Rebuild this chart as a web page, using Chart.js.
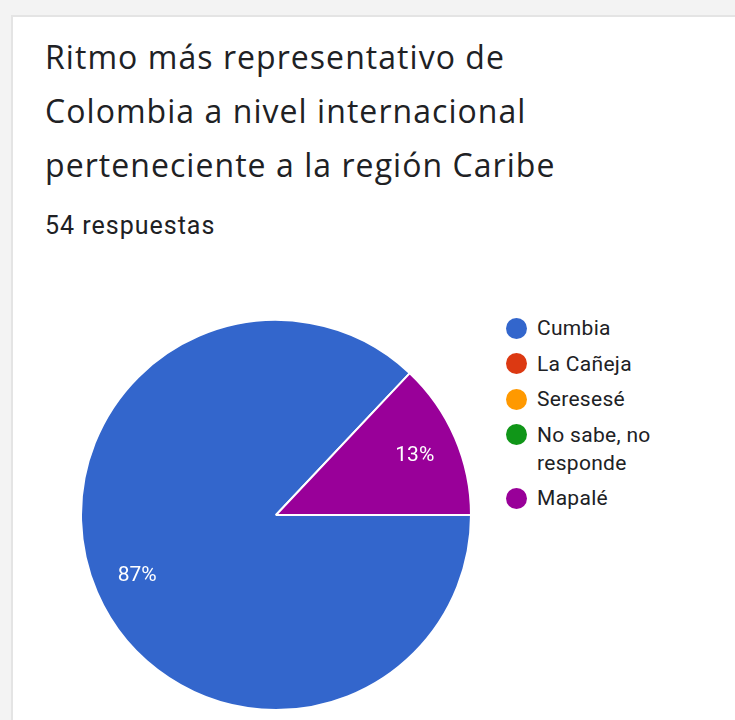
<!DOCTYPE html>
<html>
<head>
<meta charset="utf-8">
<script src="https://cdn.jsdelivr.net/npm/chart.js@4"></script>
<style>
  html, body { margin:0; padding:0; width:735px; height:720px; overflow:hidden; background:#f3f3f3; }
  #card { position:absolute; left:11px; top:15px; width:730px; height:710px; background:#fff; border-top:2px solid #e4e4e4; border-left:2px solid #e4e4e4; box-sizing:border-box; }
  #title { position:absolute; left:45px; top:30px; font-family:"Open Sans", Roboto, sans-serif; font-size:32px; letter-spacing:1.05px; line-height:54px; color:#202124; white-space:nowrap; }
  #sub { position:absolute; left:45px; top:211px; font-family:Roboto, sans-serif; font-size:25px; letter-spacing:1px; line-height:normal; color:#202124; }
  #chartWrap { position:absolute; left:80px; top:319px; width:392px; height:392px; }
  #legend { position:absolute; left:506px; top:314px; font-family:Roboto, sans-serif; font-size:21px; letter-spacing:0.3px; color:#202124; }
  .item { display:flex; align-items:flex-start; margin-bottom:7.5px; line-height:28px; }
  .dot { width:21px; height:21px; border-radius:50%; margin-top:3.5px; margin-right:10px; flex:none; }
  .txt { width:150px; line-height:28px; }
</style>
</head>
<body>
<div id="card"></div>
<div id="title">Ritmo más representativo de<br>Colombia a nivel internacional<br>perteneciente a la región Caribe</div>
<div id="sub">54 respuestas</div>
<div id="chartWrap"><canvas id="c" width="392" height="392"></canvas></div>
<div id="legend"></div>
<script>
const categories = ["Cumbia", "La Cañeja", "Seresesé", "No sabe, no responde", "Mapalé"];
const responses = [47, 0, 0, 0, 7];
const colors = ["#3366cc", "#dc3912", "#ff9900", "#109618", "#990099"];

const legendEl = document.getElementById('legend');
categories.forEach((name, i) => {
  const it = document.createElement('div');
  it.className = 'item';
  it.innerHTML = '<div class="dot" style="background:' + colors[i] + '"></div><div class="txt">' + name + '</div>';
  legendEl.appendChild(it);
});

const pctLabels = {
  id: 'pctLabels',
  afterDatasetsDraw(chart) {
    const ctx = chart.ctx;
    const meta = chart.getDatasetMeta(0);
    const data = chart.data.datasets[0].data;
    const total = data.reduce((a, b) => a + b, 0);
    ctx.save();
    ctx.fillStyle = '#ffffff';
    ctx.font = '21px Roboto, sans-serif';
    ctx.textAlign = 'center';
    ctx.textBaseline = 'middle';
    meta.data.forEach((arc, i) => {
      if (!data[i]) return;
      const p = arc.getProps(['x', 'y', 'startAngle', 'endAngle', 'outerRadius'], true);
      const mid = (p.startAngle + p.endAngle) / 2;
      const r = p.outerRadius * 0.775;
      const pct = Math.round(data[i] / total * 100) + '%';
      ctx.fillText(pct, p.x + Math.cos(mid) * r, p.y + Math.sin(mid) * r + 1);
    });
    ctx.restore();
  }
};

new Chart(document.getElementById('c'), {
  type: 'pie',
  data: {
    labels: categories,
    datasets: [{ data: responses, backgroundColor: colors, borderColor: '#ffffff', borderWidth: 2 }]
  },
  options: {
    responsive: false,
    animation: false,
    rotation: 90,
    layout: { padding: 0 },
    plugins: { legend: { display: false }, tooltip: { enabled: false } }
  },
  plugins: [pctLabels]
});
</script>
</body>
</html>
